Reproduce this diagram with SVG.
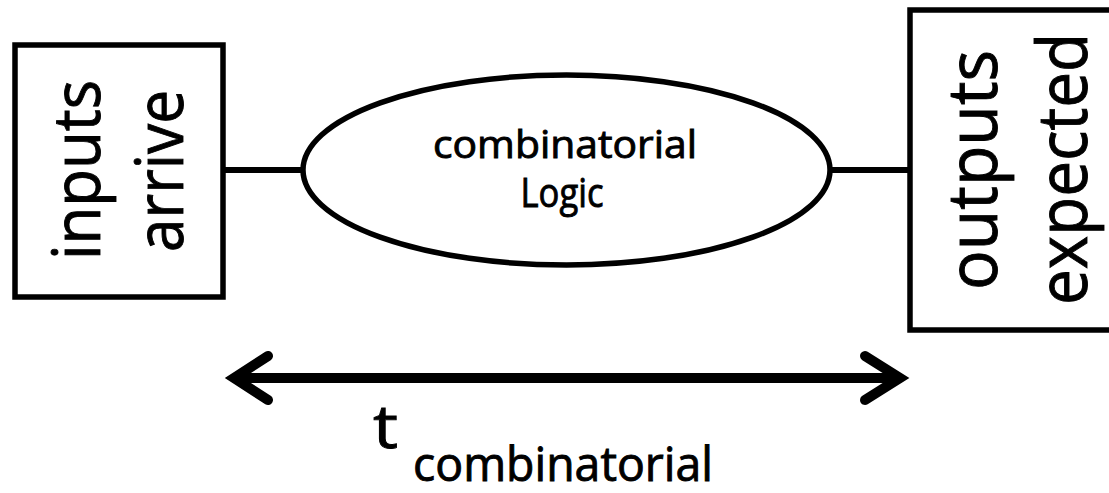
<svg xmlns="http://www.w3.org/2000/svg" width="1109" height="493" viewBox="0 0 1109 493">
<style>
.box{fill:#fff;stroke:#000;stroke-width:5.5}
.conn{stroke:#000;stroke-width:6;fill:none}
.arr{stroke:#000;stroke-width:10;fill:none;stroke-linejoin:miter;stroke-linecap:round}
text{font-family:"Open Sans","Noto Sans",sans-serif;fill:#000;stroke:#000;stroke-width:0.9}
</style>
<rect width="1109" height="493" fill="#fff"/>
<g id="connectors">
<line class="conn" x1="223" y1="170" x2="303" y2="170"/>
<line class="conn" x1="830" y1="170" x2="910" y2="170"/>
<line x1="236" y1="378" x2="898" y2="378" stroke="#000" stroke-width="10"/>
<polyline class="arr" points="268,356 234,378 268,400"/>
<polyline class="arr" points="865,356 900,378 865,400"/>
</g>
<g id="inputs">
<rect class="box" x="15" y="45" width="208" height="252"/>
<text transform="translate(100,170) rotate(-90)" text-anchor="middle" font-size="66" textLength="180" lengthAdjust="spacingAndGlyphs">inputs</text>
<text transform="translate(183,171) rotate(-90)" text-anchor="middle" font-size="66" textLength="162" lengthAdjust="spacingAndGlyphs">arrive</text>
</g>
<g id="logic">
<ellipse class="box" cx="566.5" cy="170" rx="263.5" ry="95"/>
<text x="565" y="158" text-anchor="middle" font-size="38" stroke-width="0.5" textLength="264" lengthAdjust="spacingAndGlyphs">combinatorial</text>
<text x="562" y="207" text-anchor="middle" font-size="40" stroke-width="0.5" textLength="83" lengthAdjust="spacingAndGlyphs">Logic</text>
</g>
<g id="outputs">
<rect class="box" x="910" y="10" width="210" height="320"/>
<text transform="translate(997,170) rotate(-90)" text-anchor="middle" font-size="69" textLength="240" lengthAdjust="spacingAndGlyphs">outputs</text>
<text transform="translate(1087,169) rotate(-90)" text-anchor="middle" font-size="69" textLength="272" lengthAdjust="spacingAndGlyphs">expected</text>
</g>
<g id="tlabel">
<text x="373" y="448" font-size="60" textLength="25" lengthAdjust="spacingAndGlyphs">t</text>
<text x="413" y="481" font-size="47" stroke-width="0.6" textLength="300" lengthAdjust="spacingAndGlyphs">combinatorial</text>
</g>
</svg>
